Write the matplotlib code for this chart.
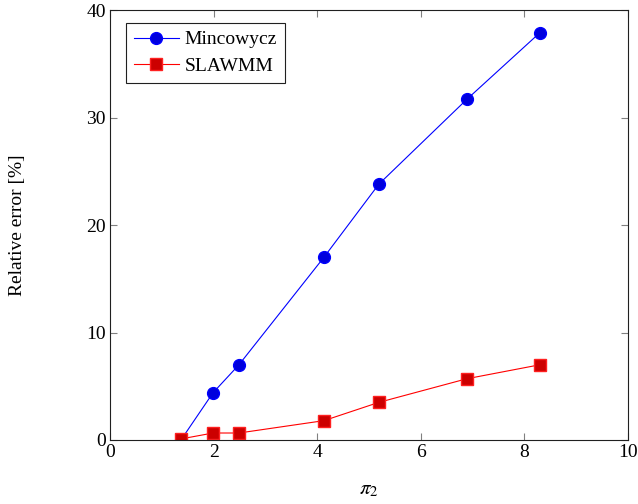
import matplotlib

matplotlib.use("Agg")
import matplotlib.pyplot as plt  # noqa: E402

plt.rcParams["font.family"] = "Liberation Serif"
plt.rcParams["mathtext.fontset"] = "stix"

# data
pi2 = [1.37, 1.99, 2.49, 4.13, 5.19, 6.89, 8.30]
mincowycz = [0.0, 4.4, 7.0, 17.0, 23.8, 31.7, 37.9]
slawmm = [0.1, 0.65, 0.65, 1.8, 3.5, 5.7, 7.0]

fig = plt.figure(figsize=(6.38, 5.04), dpi=100)
ax = fig.add_axes([0.1724, 0.127, 0.8119, 0.853])

ax.plot(pi2, mincowycz, color="#0000ff", lw=0.8, marker="o", ms=8.5,
        mfc="#0000dd", mec="#0000ff", label="Mincowycz")
ax.plot(pi2, slawmm, color="#ff0000", lw=0.8, marker="s", ms=8.5,
        mfc="#cc0000", mec="#ff2020", label="SLAWMM")

ax.set_xlim(0, 10)
ax.set_ylim(0, 40)
ax.set_xticks([0, 2, 4, 6, 8, 10])
ax.set_yticks([0, 10, 20, 30, 40])
ax.tick_params(direction="in", length=5, width=0.8, color="#808080",
               top=True, right=True, labelsize=14, pad=3)
for s in ax.spines.values():
    s.set_linewidth(0.8)
    s.set_color("#202020")

ax.set_xlabel(r"$\pi_2$", fontsize=15)
ax.set_ylabel("Relative error [%]", fontsize=14)
ax.xaxis.set_label_coords(0.5, -0.116)
ax.xaxis.label.set_va("center")
ax.yaxis.set_label_coords(-0.178, 0.5)
ax.yaxis.label.set_va("center")

leg = ax.legend(loc="upper left", bbox_to_anchor=(0.031, 0.970),
                borderaxespad=0, fontsize=14, fancybox=False,
                edgecolor="#202020", framealpha=1, handlelength=2.3,
                handletextpad=0.3, borderpad=0.4, labelspacing=0.45)
leg.get_frame().set_linewidth(0.8)

fig.savefig("out.png", dpi=100)
